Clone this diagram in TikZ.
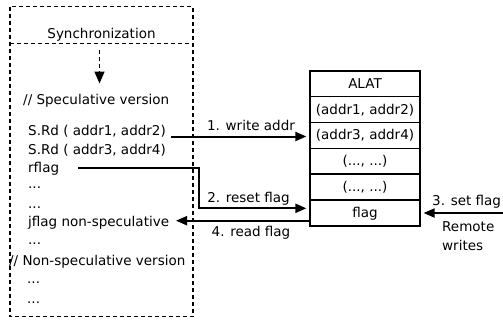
\documentclass[tikz,border=0pt]{standalone}
\usepackage{fontspec}
\setmainfont{DejaVu Sans}
\usetikzlibrary{arrows.meta}
\begin{document}
\begin{tikzpicture}[x=1pt,y=-1pt,
  font=\fontsize{13.5}{16}\selectfont,
  txt/.style={anchor=base west,inner sep=0pt},
  lbl/.style={anchor=base,inner sep=0pt},
  dashbox/.style={line width=1.5pt,dash pattern=on 4pt off 3pt},
  cell/.style={draw,line width=1.7pt,minimum width=110.5pt,minimum height=25.9pt,
    inner sep=0pt,text height=12pt,text depth=3pt},
  arr/.style={line width=2pt,-{Triangle[length=11pt,width=9pt]}},
]
\useasboundingbox (0,0) rectangle (503,322);

% thread code block
\draw[dashbox] (10,6.5) rectangle (193,316.5);
\draw[dashbox] (10,43.3) -- (193,43.3);
\node[lbl] (sync) at (101.5,38) {Synchronization};
\coordinate (s1) at (99.5,50);
\coordinate (s2) at (99.5,83.5);
\draw[dashbox,-{Triangle[length=12pt,width=10pt]}] (s1) -- (s2);

\node[txt] (spec)  at (23,104)  {// Speculative version};
\node[txt] (rd1)   at (28,135)  {S.Rd ( addr1, addr2)};
\node[txt] (rd2)   at (28,154.5){S.Rd ( addr3, addr4)};
\node[txt] (rflag) at (28,172)  {rflag};
\node[txt] (d1)    at (28,188.5){...};
\node[txt] (d2)    at (28,208)  {...};
\node[txt] (jflag) at (28,226.5){jflag non-speculative};
\node[txt] (d3)    at (28,244.5){...};
\node[txt] (nspec) at (9,265)   {// Non-speculative version};
\node[txt] (d4)    at (27,283.5){...};
\node[txt] (d5)    at (27,303)  {...};

% ALAT table
\node[cell] (a0) at (365,83.65)  {ALAT};
\node[cell] (a1) at (365,109.55) {(addr1, addr2)};
\node[cell] (a2) at (365,135.45) {(addr3, addr4)};
\node[cell] (a3) at (365,161.35) {(..., ...)};
\node[cell] (a4) at (365,187.25) {(..., ...)};
\node[cell] (a5) at (365,213.15) {flag};

% 1. write addr
\coordinate (w1) at (171,136.5);
\draw[arr,shorten >=2.5pt] (w1) -- (w1 -| a2.west);
\node[lbl] (l1) at (251,130) {1. write addr};

% 2. reset flag
\coordinate (w2) at (78,168.3);
\coordinate (w2b) at (199.3,168.3);
\coordinate (w2c) at (199.3,208.3);
\draw[arr,shorten >=2.5pt] (w2) -- (w2b) -- (w2c) -- (w2c -| a5.west);
\node[lbl] (l2) at (248.5,202) {2. reset flag};

% 4. read flag
\coordinate (w4) at (176,220.7);
\draw[arr] (a5.west |- w4) -- (w4);
\node[lbl] (l4) at (251,236.5) {4. read flag};

% 3. set flag from remote writes
\coordinate (w3) at (505,213);
\draw[arr,shorten >=2.5pt] (w3) -- (w3 -| a5.east);
\node[txt] (l3) at (432,205.5) {3. set flag};
\node[txt] (rem) at (442,231.5) {Remote};
\node[txt] (wri) at (442,250.5) {writes};
\end{tikzpicture}
\end{document}
